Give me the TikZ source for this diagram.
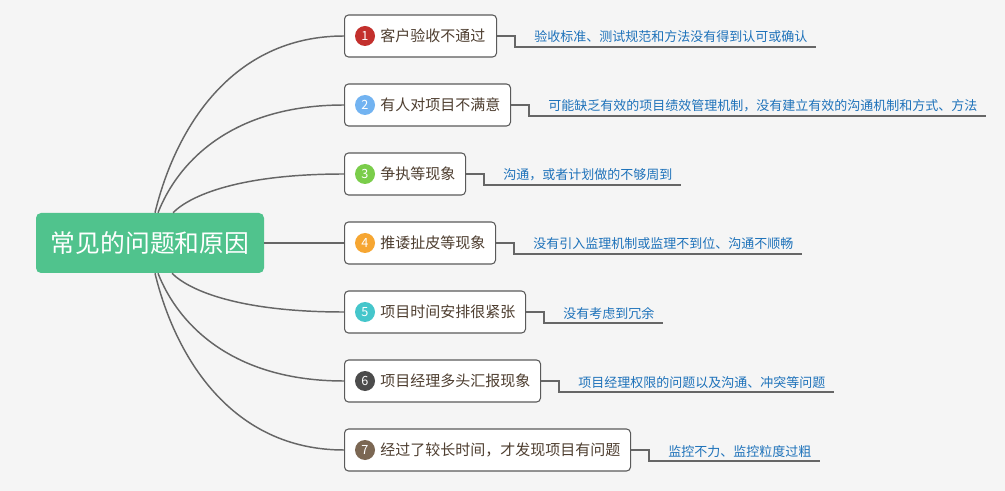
\documentclass[tikz,border=0pt]{standalone}
\usepackage{fontspec}
\setmainfont{Noto Sans CJK SC}
\usetikzlibrary{calc}
\definecolor{bg}{HTML}{F5F5F5}
\definecolor{rootgreen}{HTML}{50C38D}
\definecolor{linecol}{HTML}{666666}
\definecolor{boxline}{HTML}{5A5A5A}
\definecolor{labcol}{HTML}{4E3E30}
\definecolor{subcol}{HTML}{1E72BA}
\definecolor{c1}{HTML}{C3302D}
\definecolor{c2}{HTML}{72B3F1}
\definecolor{c3}{HTML}{7ACD4A}
\definecolor{c4}{HTML}{F6A632}
\definecolor{c5}{HTML}{45C6CB}
\definecolor{c6}{HTML}{4C4C4C}
\definecolor{c7}{HTML}{7B6753}
\tikzset{
  rootbox/.style={fill=rootgreen, rounded corners=3.75pt, minimum width=171pt, minimum height=45pt,
    text=white, font=\fontsize{18.6}{20}\selectfont, inner sep=0pt},
  topicbox/.style={draw=boxline, fill=white, rounded corners=3pt, line width=0.8pt,
    minimum height=31.5pt, anchor=west, inner sep=0pt},
  numdot/.style={circle, minimum size=15pt, inner sep=0pt, text=white, font=\fontsize{9.5}{9.5}\selectfont},
  toplabel/.style={anchor=west, inner sep=0pt, text=labcol, font=\fontsize{11.25}{13}\selectfont},
  sublabel/.style={anchor=base west, inner sep=0pt, text=subcol, font=\fontsize{9.75}{11}\selectfont},
  conn/.style={draw=linecol, line width=1.1pt},
  subconn/.style={draw=linecol, line width=0.9pt},
}
\newcommand\mybranch[6]{%
  \node[topicbox, minimum width=#3*0.75pt] (b#1) at (344,#2) {};
  \node[numdot, fill=#4] (n#1) at (365,#2) {#1};
  \node[toplabel] (l#1) at (380,#2) {#5};
  \coordinate (e#1) at ($(b#1.east)+(18,0)$);
  \coordinate (d#1) at ($(e#1)+(0,11)$);
  \node[sublabel] (s#1) at ($(b#1.east)+(37,6)$) {#6};
  \coordinate (u#1) at ($(s#1.east |- d#1)+(8,0)$);
  \draw[subconn] (b#1.east) -- (e#1) -- (d#1) -- (u#1);
}
\begin{document}
\begin{tikzpicture}[x=0.75pt,y=-0.75pt]
\fill[bg] (0,0) rectangle (1005,491);
\useasboundingbox (0,0) rectangle (1005,491);

\mybranch{1}{36}{152}{c1}{客户验收不通过}{验收标准、测试规范和方法没有得到认可或确认}
\mybranch{2}{105}{166}{c2}{有人对项目不满意}{可能缺乏有效的项目绩效管理机制，没有建立有效的沟通机制和方式、方法}
\mybranch{3}{174}{121}{c3}{争执等现象}{沟通，或者计划做的不够周到}
\mybranch{4}{243}{151}{c4}{推诿扯皮等现象}{没有引入监理机制或监理不到位、沟通不顺畅}
\mybranch{5}{312}{181}{c5}{项目时间安排很紧张}{没有考虑到冗余}
\mybranch{6}{381}{196}{c6}{项目经理多头汇报现象}{项目经理权限的问题以及沟通、冲突等问题}
\mybranch{7}{450}{286}{c7}{经过了较长时间，才发现项目有问题}{监控不力、监控粒度过粗}

\node[rootbox] (root) at (150,243) {常见的问题和原因};

\coordinate (t1) at ($(root.north)+(5,0)$);
\coordinate (t2) at ($(root.north)+(8,0)$);
\coordinate (t3) at ($(root.north)+(23,0)$);
\coordinate (t5) at ($(root.south)+(22,0)$);
\coordinate (t6) at ($(root.south)+(8,0)$);
\coordinate (t7) at ($(root.south)+(5,0)$);

\draw[conn] (t1) .. controls ($(t1)+(20,-83)$) and ($(b1.west)+(-113,0)$) .. (b1.west);
\draw[conn] (t2) .. controls ($(t2)+(20,-51)$) and ($(b2.west)+(-112,0)$) .. (b2.west);
\draw[conn] (t3) .. controls ($(t3)+(18,-18)$) and ($(b3.west)+(-103,0)$) .. (b3.west);
\draw[conn] (root.east) -- (b4.west);
\draw[conn] (t5) .. controls ($(t5)+(18,18)$) and ($(b5.west)+(-103,0)$) .. (b5.west);
\draw[conn] (t6) .. controls ($(t6)+(20,51)$) and ($(b6.west)+(-112,0)$) .. (b6.west);
\draw[conn] (t7) .. controls ($(t7)+(20,83)$) and ($(b7.west)+(-113,0)$) .. (b7.west);
\end{tikzpicture}
\end{document}
